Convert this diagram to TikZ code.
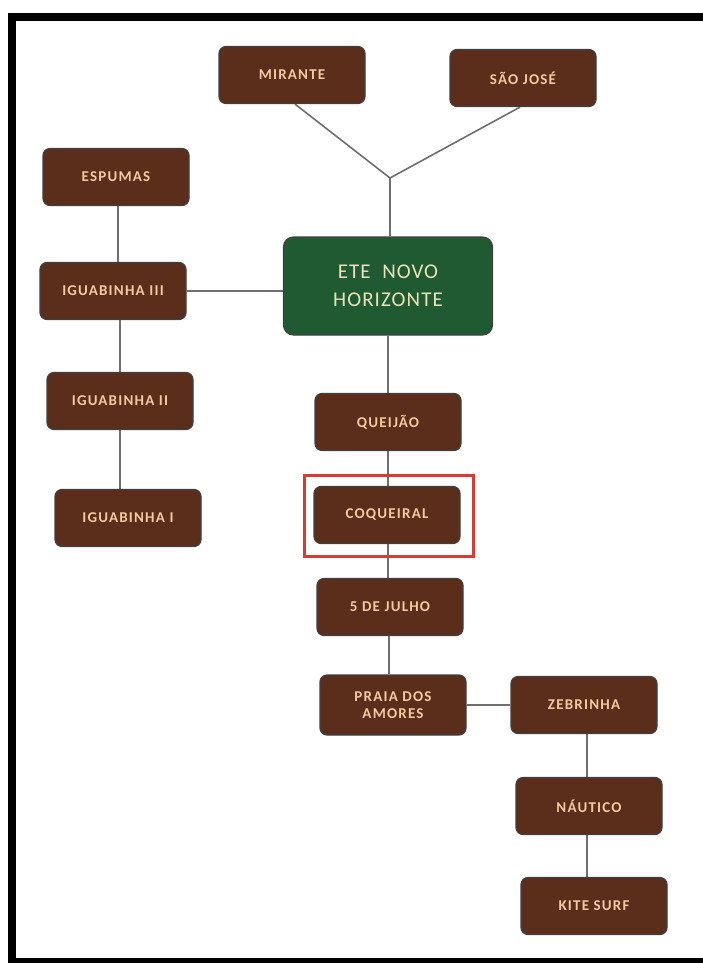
\documentclass[tikz,border=0pt]{standalone}
\usepackage{fontspec}
\setmainfont{Carlito}
\newfontfamily\labelfont[LetterSpace=8]{Carlito}
\newfontfamily\etefont[LetterSpace=5]{Carlito}
\usetikzlibrary{backgrounds}
\definecolor{boxbrown}{HTML}{5B2E1B}
\definecolor{boxgreen}{HTML}{1F5A32}
\definecolor{labeltext}{HTML}{F2C9A0}
\definecolor{etetext}{HTML}{E9E4B8}
\definecolor{linkgray}{HTML}{6E6E6E}
\definecolor{markred}{HTML}{D93A34}
\tikzset{
  stopbox/.style={draw=black!75, line width=1.2pt, fill=boxbrown, rounded corners=7pt,
    minimum width=146pt, minimum height=57pt, inner sep=0pt, align=center,
    text=labeltext, font=\labelfont\fontsize{15}{17}\selectfont\bfseries},
  mainbox/.style={draw=black!75, line width=1.2pt, fill=boxgreen, rounded corners=10pt,
    minimum width=209pt, minimum height=98pt, inner sep=0pt, align=center,
    text=etetext, font=\etefont\fontsize{21}{28}\selectfont},
  link/.style={draw=linkgray, line width=1.6pt},
}
\begin{document}
\begin{tikzpicture}[x=1pt,y=-1pt]
\useasboundingbox (0,0) rectangle (703,963);

\node[stopbox] (mirante) at (292,75) {MIRANTE};
\node[stopbox] (saojose) at (523,78) {SÃO JOSÉ};
\coordinate (junc) at (390,178);
\node[mainbox] (ete) at (388,286) {ETE\ \ NOVO\\HORIZONTE};
\node[stopbox] (espumas) at (116,177) {ESPUMAS};
\node[stopbox] (ig3) at (113,291) {IGUABINHA III};
\node[stopbox] (ig2) at (120,401) {IGUABINHA II};
\node[stopbox] (ig1) at (128,518) {IGUABINHA I};
\node[stopbox] (queijao) at (388,422) {QUEIJÃO};
\node[stopbox] (coqueiral) at (387,515) {COQUEIRAL};
\node[stopbox] (julho) at (390,607) {5 DE JULHO};
\node[stopbox, minimum height=60pt] (praia) at (393,705) {PRAIA DOS\\AMORES};
\node[stopbox] (zebrinha) at (584,705) {ZEBRINHA};
\node[stopbox] (nautico) at (589,806) {NÁUTICO};
\node[stopbox] (kite) at (594,906) {KITE SURF};

\begin{scope}[on background layer]
\fill[white] (0,0) rectangle (703,963);
\draw[link] ([xshift=3pt]mirante.south) -- (junc);
\draw[link] ([xshift=-3pt]saojose.south) -- (junc);
\draw[link] (junc) -- (junc |- ete.north);
\draw[link] (espumas.south -| 118,0) -- (ig3.north -| 118,0);
\draw[link] (ig3.east) -- (ig3.east -| ete.west);
\draw[link] (ig3.south -| 120,0) -- (ig2.north -| 120,0);
\draw[link] (ig2.south -| 120,0) -- (ig1.north -| 120,0);
\draw[link] (ete.south) -- (ete.south |- queijao.north);
\draw[link] (queijao.south -| 388,0) -- (coqueiral.north -| 388,0);
\draw[link] (coqueiral.south -| 388,0) -- (julho.north -| 388,0);
\draw[link] (julho.south -| 389,0) -- (praia.north -| 389,0);
\draw[link] (praia.east) -- (zebrinha.west);
\draw[link] (zebrinha.south -| 587,0) -- (nautico.north -| 587,0);
\draw[link] (nautico.south -| 587,0) -- (kite.north -| 587,0);
\end{scope}

\draw[markred, line width=3pt] (304,475) rectangle (473,556);

\draw[line width=8pt] (12,17.5) -- (703,17.5);
\draw[line width=8pt] (12,13.5) -- (12,963);
\draw[line width=6pt] (8,961) -- (703,961);
\end{tikzpicture}
\end{document}
